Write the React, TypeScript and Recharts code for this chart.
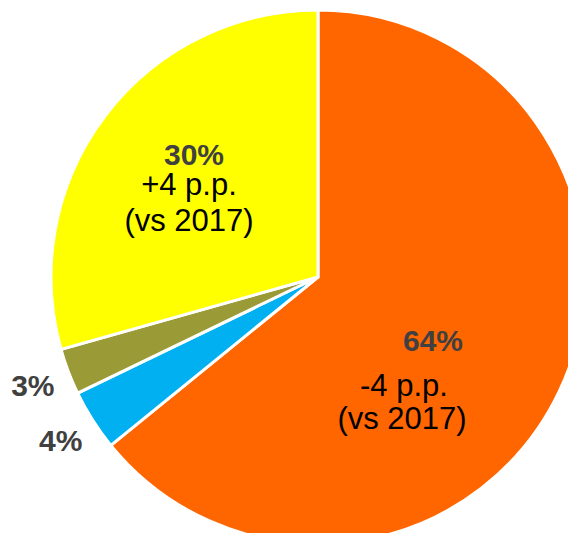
import { Cell, Pie, PieChart } from "recharts";

const segments = ["2018 A", "2018 B", "2018 C", "2018 D"];
const shares = [64.2, 3.7, 2.8, 29.4];
const shareLabels = ["64%", "4%", "3%", "30%"];
const changes = ["-4 p.p.", "", "", "+4 p.p."];
const baseline = "(vs 2017)";
const colors = ["#FF6600", "#00B0F0", "#9A9A36", "#FFFF00"];

const data = segments.map((name, i) => ({
  name,
  value: shares[i],
  label: shareLabels[i],
  change: changes[i]
}));

// hand-placed blocks for the two big slices, relative to the pie centre
const inside: Record<number, { pct: [number, number]; lines: [number, number][] }> = {
  0: { pct: [115, 63], lines: [[86, 108], [84, 141]] },
  3: { pct: [-124, -123], lines: [[-129, -93], [-129, -57]] }
};

const FONT = "'Liberation Sans', Arial, sans-serif";
const RADIAN = Math.PI / 180;

function renderLabel(props: any) {
  const { cx, cy, midAngle, outerRadius, index } = props;
  const d = data[index];
  const block = inside[index];
  if (block) {
    return (
      <g key={`lbl-${index}`}>
        <text
          x={cx + block.pct[0]}
          y={cy + block.pct[1]}
          textAnchor="middle"
          dominantBaseline="central"
          fontFamily={FONT}
          fontWeight="bold"
          fontSize={30}
          fill="#404040"
        >
          {d.label}
        </text>
        {[d.change, baseline].map((t, j) => (
          <text
            key={j}
            x={cx + block.lines[j][0]}
            y={cy + block.lines[j][1]}
            textAnchor="middle"
            dominantBaseline="central"
            fontFamily={FONT}
            fontSize={31}
            fill="#000000"
          >
            {t}
          </text>
        ))}
      </g>
    );
  }
  const r = outerRadius + 38;
  const x = cx + r * Math.cos(-midAngle * RADIAN);
  const y = cy + r * Math.sin(-midAngle * RADIAN);
  return (
    <text
      key={`lbl-${index}`}
      x={x}
      y={y}
      textAnchor="middle"
      dominantBaseline="central"
      fontFamily={FONT}
      fontWeight="bold"
      fontSize={30}
      fill="#404040"
    >
      {d.label}
    </text>
  );
}

export default function App() {
  return (
    <div style={{ position: "absolute", left: 0, top: 0, width: 568, height: 533, background: "#fff" }}>
      <PieChart width={568} height={533} margin={{ top: 0, right: 0, bottom: 0, left: 0 }}>
        <Pie
          data={data}
          dataKey="value"
          nameKey="name"
          cx={318}
          cy={277}
          outerRadius={267}
          startAngle={90}
          endAngle={-270}
          stroke="#ffffff"
          strokeWidth={3}
          label={renderLabel}
          labelLine={false}
          isAnimationActive={false}
        >
          {data.map((d, i) => (
            <Cell key={d.name} fill={colors[i]} />
          ))}
        </Pie>
      </PieChart>
    </div>
  );
}
